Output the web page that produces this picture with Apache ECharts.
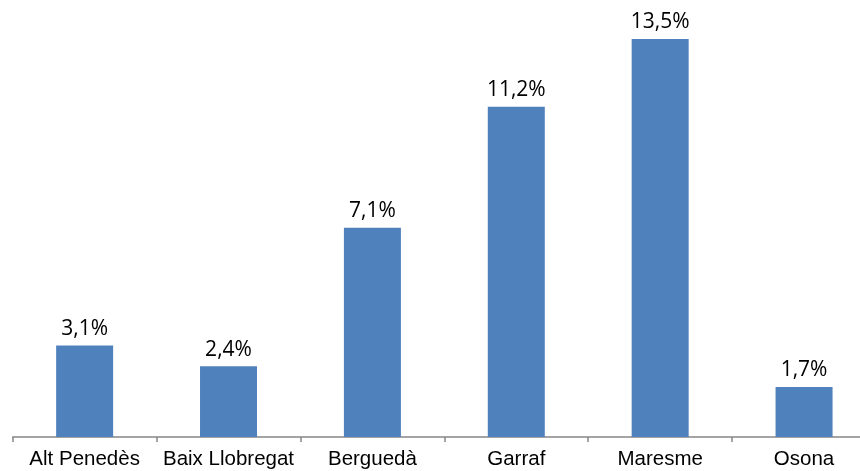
<!DOCTYPE html>
<html>
<head>
<meta charset="utf-8">
<script src="https://cdn.jsdelivr.net/npm/echarts@6/dist/echarts.min.js"></script>
<style>
  html, body { margin: 0; padding: 0; background: #fff; overflow: hidden; }
  #chart { width: 876px; height: 471px; }
</style>
</head>
<body>
<div id="chart"></div>
<script>
const comarques = ['Alt Penedès', 'Baix Llobregat', 'Berguedà', 'Garraf', 'Maresme', 'Osona']
const percentatges = [3.1, 2.4, 7.1, 11.2, 13.5, 1.7]

// el contenidor és més ample que la finestra: l'eix continua fora del quadre
const chart = echarts.init(document.getElementById('chart'))
chart.setOption({
  animation: false,
  grid: { left: 12.7, right: 0, top: 39, bottom: 34, containLabel: false },
  xAxis: {
    type: 'category',
    data: comarques,
    axisLine: { lineStyle: { color: '#868686', width: 1.5 } },
    axisTick: { show: true, length: 5, lineStyle: { color: '#868686', width: 1.5 } },
    axisLabel: {
      color: '#000',
      fontFamily: 'Liberation Sans',
      fontSize: 20.5,
      margin: 12,
      interval: 0
    }
  },
  yAxis: {
    type: 'value',
    min: 0,
    max: 13.5,
    show: false,
    splitLine: { show: false }
  },
  series: [{
    type: 'bar',
    data: percentatges,
    barWidth: 57,
    itemStyle: { color: '#4F81BD' },
    label: {
      show: true,
      position: 'top',
      distance: 6,
      color: '#000',
      fontFamily: 'Open Sans',
      fontSize: 21,
      formatter: function (p) {
        return p.value.toFixed(1).replace('.', ',') + '%'
      }
    }
  }]
})
</script>
</body>
</html>
